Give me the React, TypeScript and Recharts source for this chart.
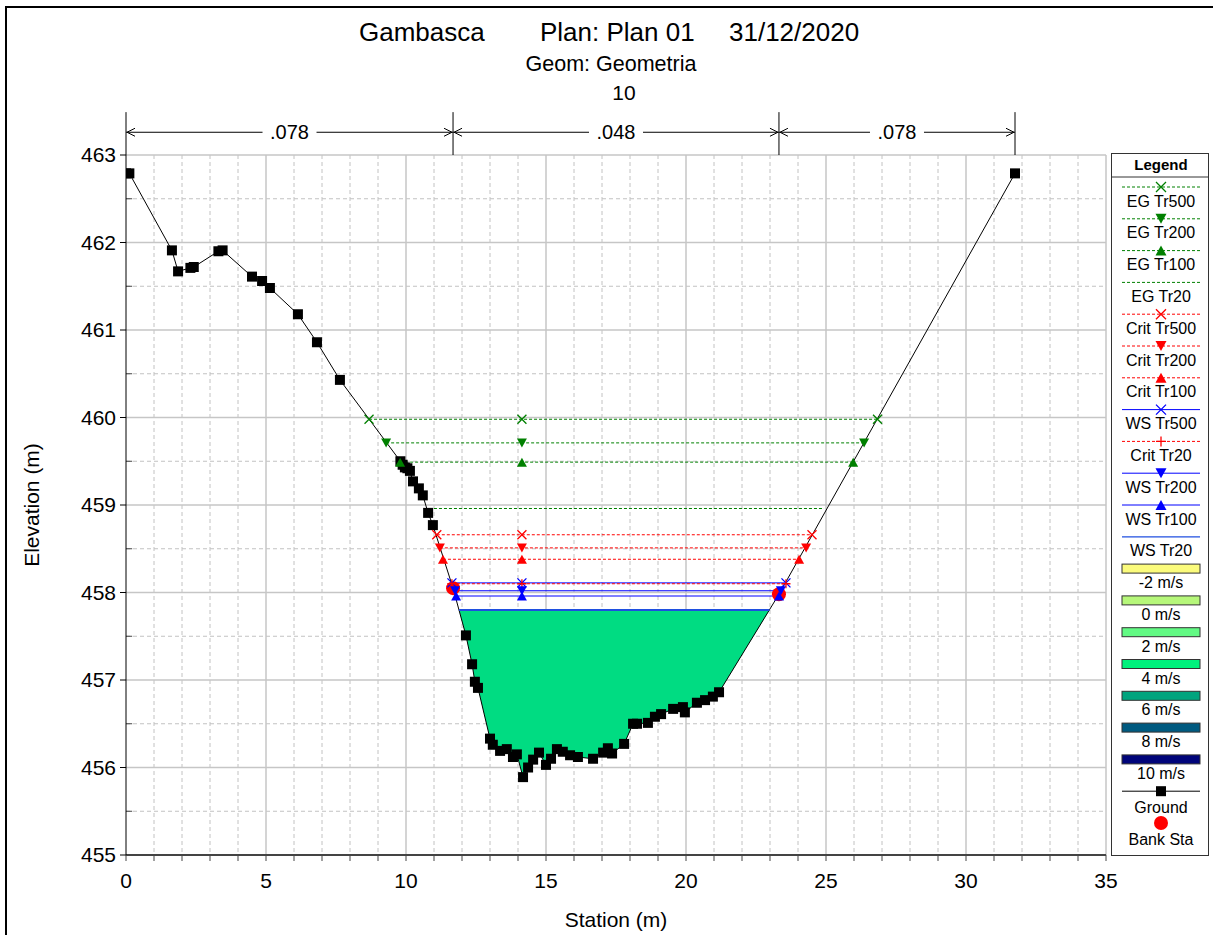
import React from "react";
import { ComposedChart, Line, Area, XAxis, YAxis, ReferenceLine, CartesianGrid } from "recharts";

// ground survey points (station m, elevation m)
const groundStation = [
  0.0, 0.12, 1.64, 1.86, 2.3, 2.42, 3.3, 3.45, 4.5, 4.86, 5.14, 6.14, 6.82, 7.64,
  9.8, 9.88, 9.96, 10.05, 10.14, 10.25, 10.46, 10.6, 10.79, 10.96, 11.68,
  12.14, 12.36, 12.46, 12.57, 13.0, 13.1, 13.36, 13.6, 13.82, 13.96, 14.18, 14.36,
  14.54, 14.75, 15.0, 15.18, 15.39, 15.6, 15.86, 16.14, 16.68, 17.04, 17.21, 17.36,
  17.79, 18.11, 18.25, 18.64, 18.89, 19.11, 19.54, 19.89, 19.96, 20.39, 20.68, 20.96,
  21.18, 23.32, 31.75,
];
const groundElev = [
  462.79, 462.79, 461.91, 461.67, 461.71, 461.72, 461.9, 461.91, 461.61, 461.56, 461.48,
  461.18, 460.86, 460.43, 459.5, 459.46, 459.43, 459.42, 459.39, 459.27, 459.19, 459.11,
  458.91, 458.77, 458.05, 457.51, 457.18, 456.98, 456.91, 456.33, 456.26, 456.19, 456.21,
  456.12, 456.15, 455.89, 456.0, 456.09, 456.17, 456.03, 456.1, 456.21, 456.18, 456.14,
  456.12, 456.1, 456.17, 456.22, 456.16, 456.27, 456.5, 456.5, 456.51, 456.58, 456.61,
  456.67, 456.69, 456.63, 456.74, 456.77, 456.81, 456.86, 457.98, 462.79,
];
const bankStation = [11.68, 23.32];
const bankElev = [458.05, 457.98];

// water profiles, in legend order
const profileNames = [
  "EG Tr500", "EG Tr200", "EG Tr100", "EG Tr20",
  "Crit Tr500", "Crit Tr200", "Crit Tr100", "WS Tr500",
  "Crit Tr20", "WS Tr200", "WS Tr100", "WS Tr20",
];
const profileElev = [459.98, 459.71, 459.49, 458.96, 458.66, 458.51, 458.38, 458.11, 458.1, 458.02, 457.96, 457.8];
const profileLeft = [8.68, 9.29, 9.79, 10.82, 11.1, 11.21, 11.32, 11.64, 11.64, 11.75, 11.79, 11.89];
const profileRight = [26.84, 26.36, 25.97, 24.93, 24.5, 24.29, 24.04, 23.57, 23.57, 23.39, 23.32, 22.98];
const markerStation = 14.14;

const waterLevel = 457.8;
const waterEdges = [11.89, 22.98];

const nBounds = [0, 11.68, 23.32, 31.75];
const nValues = [".078", ".048", ".078"];

const velocityLabels = ["-2 m/s", "0 m/s", "2 m/s", "4 m/s", "6 m/s", "8 m/s", "10 m/s"];
const velocityColors = ["#fbfb7c", "#b6f77a", "#62fa84", "#00f27c", "#00a47e", "#005a80", "#00047a"];

const xTicks = [0, 1, 2, 3, 4, 5, 6, 7, 8, 9, 10, 11, 12, 13, 14, 15, 16, 17, 18, 19, 20, 21, 22, 23, 24, 25, 26, 27, 28, 29, 30, 31, 32, 33, 34, 35];
const xMajor = [5, 10, 15, 20, 25, 30, 35];
const xMinor = [1, 2, 3, 4, 6, 7, 8, 9, 11, 12, 13, 14, 16, 17, 18, 19, 21, 22, 23, 24, 26, 27, 28, 29, 31, 32, 33, 34];
const yTicks = [455, 456, 457, 458, 459, 460, 461, 462, 463];
const yHalf = [455.5, 456.5, 457.5, 458.5, 459.5, 460.5, 461.5, 462.5];

type Kind = "x" | "down" | "up" | "plus" | "none";
const GREEN = "#008000";
const RED = "#ff0000";
const BLUE = "#0000ff";
const profileStyle: Record<string, { color: string; dash?: string; kind: Kind; width?: number }> = {
  "EG Tr500": { color: GREEN, dash: "3 2", kind: "x" },
  "EG Tr200": { color: GREEN, dash: "3 2", kind: "down" },
  "EG Tr100": { color: GREEN, dash: "3 2", kind: "up" },
  "EG Tr20": { color: GREEN, dash: "3 2", kind: "none" },
  "Crit Tr500": { color: RED, dash: "3 2", kind: "x" },
  "Crit Tr200": { color: RED, dash: "3 2", kind: "down" },
  "Crit Tr100": { color: RED, dash: "3 2", kind: "up" },
  "WS Tr500": { color: BLUE, kind: "x" },
  "Crit Tr20": { color: RED, dash: "3 2", kind: "plus" },
  "WS Tr200": { color: BLUE, kind: "down" },
  "WS Tr100": { color: BLUE, kind: "up" },
  "WS Tr20": { color: "#1f4fe0", kind: "none", width: 2 },
};

const FONT = "Arial, 'Liberation Sans', sans-serif";

function marker(kind: Kind, cx: number, cy: number, color: string, key: string, s = 4.5) {
  if (kind === "x")
    return <path key={key} d={`M${cx - s},${cy - s}L${cx + s},${cy + s}M${cx - s},${cy + s}L${cx + s},${cy - s}`} stroke={color} strokeWidth={1.3} fill="none" />;
  if (kind === "plus")
    return <path key={key} d={`M${cx - s},${cy}L${cx + s},${cy}M${cx},${cy - s}L${cx},${cy + s}`} stroke={color} strokeWidth={1.3} fill="none" />;
  if (kind === "down")
    return <path key={key} d={`M${cx - s - 0.5},${cy - s}L${cx + s + 0.5},${cy - s}L${cx},${cy + s}Z`} fill={color} />;
  if (kind === "up")
    return <path key={key} d={`M${cx - s - 0.5},${cy + s}L${cx + s + 0.5},${cy + s}L${cx},${cy - s}Z`} fill={color} />;
  return <g key={key} />;
}

const groundRows = groundStation.map((x, i) => ({ x, y: groundElev[i] }));
const bankRows = bankStation.map((x, i) => ({ x, y: bankElev[i] }));

// water body under WS Tr20: ground points inside the wetted edges
const fillRows = [
  { x: waterEdges[0], range: [waterLevel, waterLevel] },
  ...groundRows
    .filter((p) => p.x > waterEdges[0] && p.x < waterEdges[1])
    .map((p) => ({ x: p.x, range: [p.y, waterLevel] })),
  { x: waterEdges[1], range: [waterLevel, waterLevel] },
];

const profileRows = profileNames.map((name, i) => {
  const y = profileElev[i];
  return profileStyle[name].kind === "none"
    ? [{ x: profileLeft[i], y }, { x: profileRight[i], y }]
    : [{ x: profileLeft[i], y }, { x: markerStation, y }, { x: profileRight[i], y }];
});

const zoneArrow = (label: string) => (p: any) => {
  const { x1, x2, y1 } = p;
  const mid = (x1 + x2) / 2;
  const w = label.length * 11 + 10;
  return (
    <g>
      <line x1={x1} y1={y1} x2={x2} y2={y1} stroke="#000" strokeWidth={1} />
      <path d={`M${x1 + 9},${y1 - 4}L${x1 + 1},${y1}L${x1 + 9},${y1 + 4}M${x2 - 9},${y1 - 4}L${x2 - 1},${y1}L${x2 - 9},${y1 + 4}`} stroke="#000" strokeWidth={1} fill="none" />
      <rect x={mid - w / 2} y={y1 - 12} width={w} height={24} fill="#fff" />
      <text x={mid} y={y1} dy="0.35em" textAnchor="middle" fontSize={20} fontFamily={FONT} fill="#000">{label}</text>
    </g>
  );
};

function Overlay() {
  const x0 = 1111.5;
  const lx1 = 1122;
  const lx2 = 1200;
  const cx = 1161;
  const fs = 16;
  const rowY = (i: number) => 187 + 31.8 * i;
  const items: React.ReactNode[] = [];
  profileNames.forEach((name, i) => {
    const st = profileStyle[name];
    const y = rowY(i);
    items.push(
      <g key={name}>
        <line x1={lx1} y1={y} x2={lx2} y2={y} stroke={st.color} strokeWidth={st.width ? 1.3 : 1} strokeDasharray={st.dash} />
        {marker(st.kind, cx, y, st.color, name + "m", 5)}
        <text x={cx} y={y + 14} dy="0.35em" textAnchor="middle" fontSize={fs} fontFamily={FONT}>{name}</text>
      </g>
    );
  });
  velocityLabels.forEach((lab, j) => {
    const y = rowY(profileNames.length + j);
    items.push(
      <g key={lab}>
        <rect x={lx1} y={y - 4.5} width={lx2 - lx1} height={9} fill={velocityColors[j]} stroke="#333" strokeWidth={1} />
        <text x={cx} y={y + 14} dy="0.35em" textAnchor="middle" fontSize={fs} fontFamily={FONT}>{lab}</text>
      </g>
    );
  });
  const gy = rowY(profileNames.length + velocityLabels.length);
  const by = rowY(profileNames.length + velocityLabels.length + 1);
  return (
    <svg width={1213} height={935} style={{ position: "absolute", left: 0, top: 0, pointerEvents: "none" }}>
      <rect x={x0} y={153.5} width={97} height={702} fill="#fff" stroke="#333" strokeWidth={1} />
      <text x={cx} y={165} dy="0.35em" textAnchor="middle" fontSize={15} fontWeight="bold" fontFamily={FONT}>Legend</text>
      <line x1={x0} y1={177} x2={x0 + 97} y2={177} stroke="#333" strokeWidth={1} />
      {items}
      <line x1={lx1} y1={gy} x2={lx2} y2={gy} stroke="#000" strokeWidth={1} />
      <rect x={cx - 5} y={gy - 5} width={10} height={10} fill="#000" />
      <text x={cx} y={gy + 16} dy="0.35em" textAnchor="middle" fontSize={fs} fontFamily={FONT}>Ground</text>
      <circle cx={cx} cy={by} r={7} fill={RED} />
      <text x={cx} y={by + 16} dy="0.35em" textAnchor="middle" fontSize={fs} fontFamily={FONT}>Bank Sta</text>

      <text x={359} y={32} dy="0.35em" fontSize={26} fontFamily={FONT}>Gambasca</text>
      <text x={540} y={32} dy="0.35em" fontSize={26} fontFamily={FONT}>Plan: Plan 01</text>
      <text x={729} y={32} dy="0.35em" fontSize={26} fontFamily={FONT}>31/12/2020</text>
      <text x={611} y={63} dy="0.35em" textAnchor="middle" fontSize={21.5} fontFamily={FONT}>Geom: Geometria</text>
      <text x={624} y={93} dy="0.35em" textAnchor="middle" fontSize={21} fontFamily={FONT}>10</text>
      <text x={616} y={920} dy="0.35em" textAnchor="middle" fontSize={21} fontFamily={FONT}>Station (m)</text>
      <text x={32} y={505} dy="0.35em" textAnchor="middle" fontSize={21} fontFamily={FONT} transform="rotate(-90 32 505)">Elevation (m)</text>
    </svg>
  );
}

export default function App() {
  return (
    <div style={{ position: "absolute", left: 0, top: 0, width: 1213, height: 935, background: "#fff", fontFamily: FONT, overflow: "hidden" }}>
      <div style={{ position: "absolute", left: 5, top: 6, width: 1220, height: 940, borderLeft: "2px solid #000", borderTop: "2px solid #000" }} />
      <ComposedChart
        width={1213}
        height={935}
        data={fillRows}
        margin={{ top: 155, right: 107, bottom: 0, left: 0 }}
        style={{ position: "absolute", left: 0, top: 0 }}
      >
        <CartesianGrid verticalValues={xMinor} horizontalValues={yHalf} stroke="#c2c2c2" strokeDasharray="4 3" />
        <CartesianGrid verticalValues={xMajor} horizontalValues={yTicks.slice(1)} stroke="#c6c6c6" strokeWidth={1.5} />
        <XAxis
          type="number"
          dataKey="x"
          domain={[0, 35]}
          ticks={xTicks}
          interval={0}
          allowDataOverflow
          height={80}
          tickSize={6}
          tickMargin={12}
          tickFormatter={(v: number) => (v % 5 === 0 ? String(v) : "")}
          tick={{ fontSize: 21, fill: "#000", fontFamily: FONT }}
          axisLine={{ stroke: "#444", strokeWidth: 2 }}
          tickLine={{ stroke: "#444" }}
        />
        <YAxis
          type="number"
          domain={[455, 463]}
          ticks={yTicks}
          interval={0}
          allowDataOverflow
          width={126}
          tickSize={6}
          tickMargin={4}
          tick={{ fontSize: 21, fill: "#000", fontFamily: FONT }}
          axisLine={{ stroke: "#000" }}
          tickLine={{ stroke: "#000" }}
        />

        {/* short inner ticks at the half metres */}
        {yHalf.map((v) => (
          <ReferenceLine key={"yt" + v} segment={[{ x: 0, y: v }, { x: 0.22, y: v }]} stroke="#444" strokeWidth={1} />
        ))}

        {nBounds.map((b) => (
          <ReferenceLine key={"nb" + b} segment={[{ x: b, y: 463 }, { x: b, y: 463.49 }]} ifOverflow="visible" stroke="#000" strokeWidth={1} />
        ))}
        {nValues.map((v, i) => (
          <ReferenceLine
            key={"nz" + i}
            segment={[{ x: nBounds[i], y: 463.26 }, { x: nBounds[i + 1], y: 463.26 }]}
            ifOverflow="visible"
            shape={zoneArrow(v)}
          />
        ))}

        <Area dataKey="range" type="linear" fill="#00dc82" fillOpacity={1} stroke="none" isAnimationActive={false} />

        <Line
          data={groundRows}
          dataKey="y"
          type="linear"
          stroke="#000"
          strokeWidth={1}
          isAnimationActive={false}
          activeDot={false}
          dot={(p: any) =>
            bankStation.includes(groundStation[p.index]) ? (
              <g key={"g" + p.index} />
            ) : (
              <rect key={"g" + p.index} x={p.cx - 5} y={p.cy - 5} width={10} height={10} fill="#000" />
            )
          }
        />
        <Line
          data={bankRows}
          dataKey="y"
          stroke="none"
          isAnimationActive={false}
          activeDot={false}
          dot={(p: any) => <circle key={"b" + p.index} cx={p.cx} cy={p.cy} r={7} fill={RED} />}
        />

        {profileNames.map((name, i) => {
          const st = profileStyle[name];
          return (
            <Line
              key={name}
              data={profileRows[i]}
              dataKey="y"
              type="linear"
              stroke={st.color}
              strokeWidth={st.width ?? 1}
              strokeDasharray={st.dash}
              isAnimationActive={false}
              dot={(p: any) => marker(st.kind, p.cx, p.cy, st.color, name + p.index)}
              activeDot={false}
            />
          );
        })}
      </ComposedChart>
      <Overlay />
    </div>
  );
}
